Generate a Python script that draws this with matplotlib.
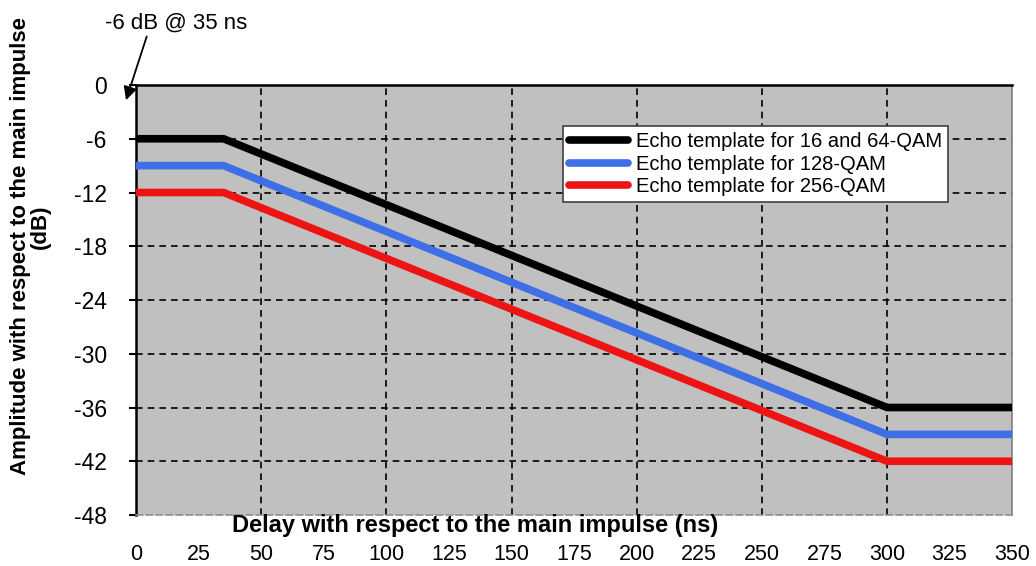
import matplotlib
matplotlib.use("Agg")
import matplotlib.pyplot as plt

plt.rcParams['font.family'] = ['Liberation Sans', 'DejaVu Sans']
plt.rcParams['axes.unicode_minus'] = False

# delay (ns) and echo template amplitude (dB)
delay = [0, 35, 300, 350]
qam_16_64 = [-6, -6, -36, -36]
qam_128 = [-9, -9, -39, -39]
qam_256 = [-12, -12, -42, -42]

series = [
    ("Echo template for 16 and 64-QAM", qam_16_64, "#000000"),
    ("Echo template for 128-QAM", qam_128, "#3f6fe6"),
    ("Echo template for 256-QAM", qam_256, "#ee1414"),
]

x_ticks = list(range(0, 351, 25))
y_ticks = list(range(-48, 1, 6))

fig = plt.figure(figsize=(10.36, 5.66), dpi=100)
ax = fig.add_axes([0.1313, 0.0901, 0.8457, 0.7597])
ax.set_facecolor("#c0c0c0")

for label, vals, col in series:
    ax.plot(delay, vals, color=col, lw=5.5, label=label, solid_capstyle='round', zorder=3)

ax.set_xlim(0, 350)
ax.set_ylim(-48, 0)
ax.set_xticks(x_ticks)
ax.set_yticks(y_ticks)
ax.tick_params(axis='x', labelsize=15.5, length=0, pad=21)
ax.tick_params(axis='y', labelsize=16.5, length=5, width=1.5, pad=16)

# dashed grid: vertical every 50 ns, horizontal every 6 dB
for xv in x_ticks:
    if xv % 50 == 0 and 0 < xv < 350:
        ax.axvline(xv, color='black', ls=(0, (4, 3)), lw=1.2, zorder=1)
for yv in y_ticks:
    if -48 < yv < 0:
        ax.axhline(yv, color='black', ls=(0, (4, 3)), lw=1.2, zorder=1)

ax.spines['left'].set_color('black')
ax.spines['left'].set_linewidth(1.8)
ax.spines['top'].set_color('black')
ax.spines['top'].set_linewidth(1.8)
ax.spines['right'].set_color('#808080')
ax.spines['right'].set_linewidth(1.2)
ax.spines['bottom'].set_color('#909090')
ax.spines['bottom'].set_linewidth(1.2)
ax.spines['bottom'].set_linestyle((0, (4, 2)))

leg = ax.legend(loc='upper left', bbox_to_anchor=(0.4874, 0.9047), fontsize=14.5,
                frameon=True, fancybox=False, edgecolor='#404040', framealpha=1,
                handlelength=2.9, borderpad=0.3, labelspacing=0.18, handletextpad=0.4,
                borderaxespad=0)
leg.get_frame().set_linewidth(1.2)

fig.text(0.4585, 0.072, "Delay with respect to the main impulse (ns)", ha='center', va='center',
         fontsize=17, fontweight='bold')
fig.text(0.020, 0.565, "Amplitude with respect to the main impulse", ha='center', va='center',
         rotation=90, fontsize=16, fontweight='bold')
fig.text(0.039, 0.6, "(dB)", ha='center', va='center',
         rotation=90, fontsize=16, fontweight='bold')

ax.annotate("-6 dB @ 35 ns", xy=(-4, -1.7), xytext=(16, 6.9), textcoords='data',
            ha='center', va='center', fontsize=16, annotation_clip=False,
            arrowprops=dict(arrowstyle='-|>', color='black', lw=1.3, mutation_scale=20,
                            shrinkA=0, shrinkB=0, relpos=(0.3, 0.0)))

fig.savefig("out.png", dpi=100)
